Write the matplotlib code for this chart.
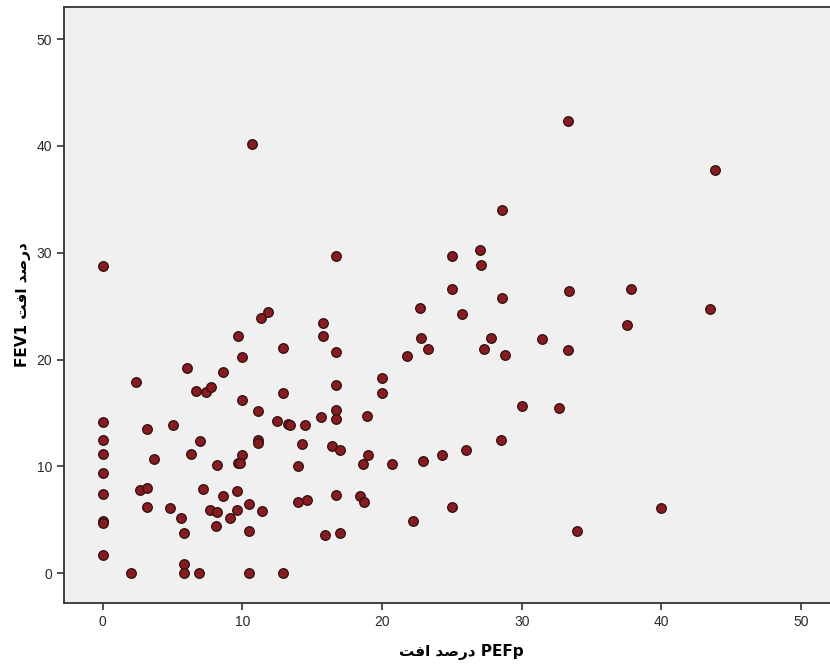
import matplotlib
matplotlib.use("Agg")
import matplotlib.pyplot as plt

# PEFp drop % (x) and FEV1 drop % (y)
pefp = [0, 10.7, 16.7, 11.8, 11.3, 9.7, 15.75, 15.8, 16.7, 12.9,
        10.0, 6.0, 8.6, 2.4, 6.7, 7.4, 7.75, 12.9, 16.7, 10.0,
        11.1, 16.7, 16.7, 15.6, 12.5, 13.3, 13.4, 14.5, 0, 0,
        0, 0, 0, 0, 0, 0, 3.2, 5.0, 7.0, 6.3,
        3.7, 8.2, 10.0, 9.7, 9.85, 11.1, 11.1, 14.3, 14.0, 16.4,
        17.0, 2.7, 3.2, 3.2, 4.8, 7.2, 8.6, 9.6, 10.5, 11.4,
        7.7, 8.2, 9.1, 9.6, 5.6, 5.8, 8.1, 10.45, 14.0, 14.6,
        16.7, 15.9, 17.0, 5.8, 5.8, 2.0, 6.9, 10.45, 12.9, 22.7,
        25.7, 28.6, 37.5, 22.8, 23.3, 21.8, 27.8, 27.3, 28.8, 31.45,
        33.3, 20.0, 20.0, 18.9, 30.0, 32.7, 28.5, 19.0, 18.6, 20.7,
        22.9, 24.3, 26.0, 18.4, 18.7, 25.0, 22.2, 33.95, 33.3, 43.8,
        28.6, 25.0, 27.0, 27.1, 25.0, 33.4, 37.8, 43.5, 40.0]
fev1 = [28.8, 40.2, 29.7, 24.5, 23.9, 22.2, 23.4, 22.2, 20.7, 21.1,
        20.2, 19.2, 18.8, 17.9, 17.1, 17.0, 17.4, 16.9, 17.6, 16.2,
        15.2, 15.3, 14.4, 14.6, 14.3, 14.0, 13.9, 13.9, 14.2, 12.5,
        11.2, 9.4, 7.4, 4.9, 4.7, 1.7, 13.5, 13.9, 12.4, 11.2,
        10.7, 10.1, 11.1, 10.3, 10.3, 12.5, 12.2, 12.1, 10.0, 11.9,
        11.5, 7.8, 8.0, 6.2, 6.1, 7.9, 7.2, 7.7, 6.5, 5.8,
        5.9, 5.7, 5.2, 5.9, 5.2, 3.8, 4.4, 4.0, 6.7, 6.9,
        7.3, 3.6, 3.8, 0.9, 0, 0, 0, 0, 0, 24.8,
        24.3, 25.8, 23.2, 22.0, 21.0, 20.3, 22.0, 21.0, 20.4, 21.9,
        20.9, 18.3, 16.9, 14.7, 15.7, 15.5, 12.5, 11.1, 10.2, 10.2,
        10.5, 11.1, 11.5, 7.2, 6.7, 6.2, 4.9, 4.0, 42.3, 37.7,
        34.0, 29.7, 30.3, 28.9, 26.6, 26.4, 26.6, 24.7, 6.1]

ticks = [0, 10, 20, 30, 40, 50]

# Persian words as presentation forms in visual order (mpl does no shaping / bidi)
darsad = "\uFEAA\uFEBB\uFEAD\uFEA9"   # درصد
oft = "\uFE96\uFED3\uFE8D"            # افت
fa_phrase = oft + " " + darsad        # "درصد افت" laid out right-to-left
x_label = fa_phrase + " PEFp"
y_label = "FEV1 " + fa_phrase

fig = plt.figure(figsize=(8.30, 6.69), dpi=100)
# the original picture is cropped on the right, so the axes run past the edge
ax = fig.add_axes([64 / 830, 66 / 669, 794 / 830, 596 / 669])
ax.set_facecolor("#f0f0f0")

ax.scatter(pefp, fev1, s=48, color="#8b1a1f", edgecolors="#2a1010",
           linewidths=0.9, zorder=3)

ax.set_xlim(-2.77, 54.07)
ax.set_ylim(-2.78, 53.0)
ax.set_xticks(ticks)
ax.set_yticks(ticks)
ax.tick_params(direction="out", length=5, width=1.2, color="#333333",
               labelsize=10, labelcolor="#2a2a2a")
for lab in ax.get_xticklabels() + ax.get_yticklabels():
    lab.set_family("Liberation Sans")

ax.spines["right"].set_visible(False)
for side in ["left", "top", "bottom"]:
    ax.spines[side].set_color("#333333")
    ax.spines[side].set_linewidth(1.3)

ax.set_xlabel(x_label, fontsize=11, fontweight="bold",
              family=["DejaVu Sans"], labelpad=11)
ax.set_ylabel(y_label, fontsize=11, fontweight="bold",
              family=["DejaVu Sans"], labelpad=4)

fig.savefig("out.png", dpi=100)
